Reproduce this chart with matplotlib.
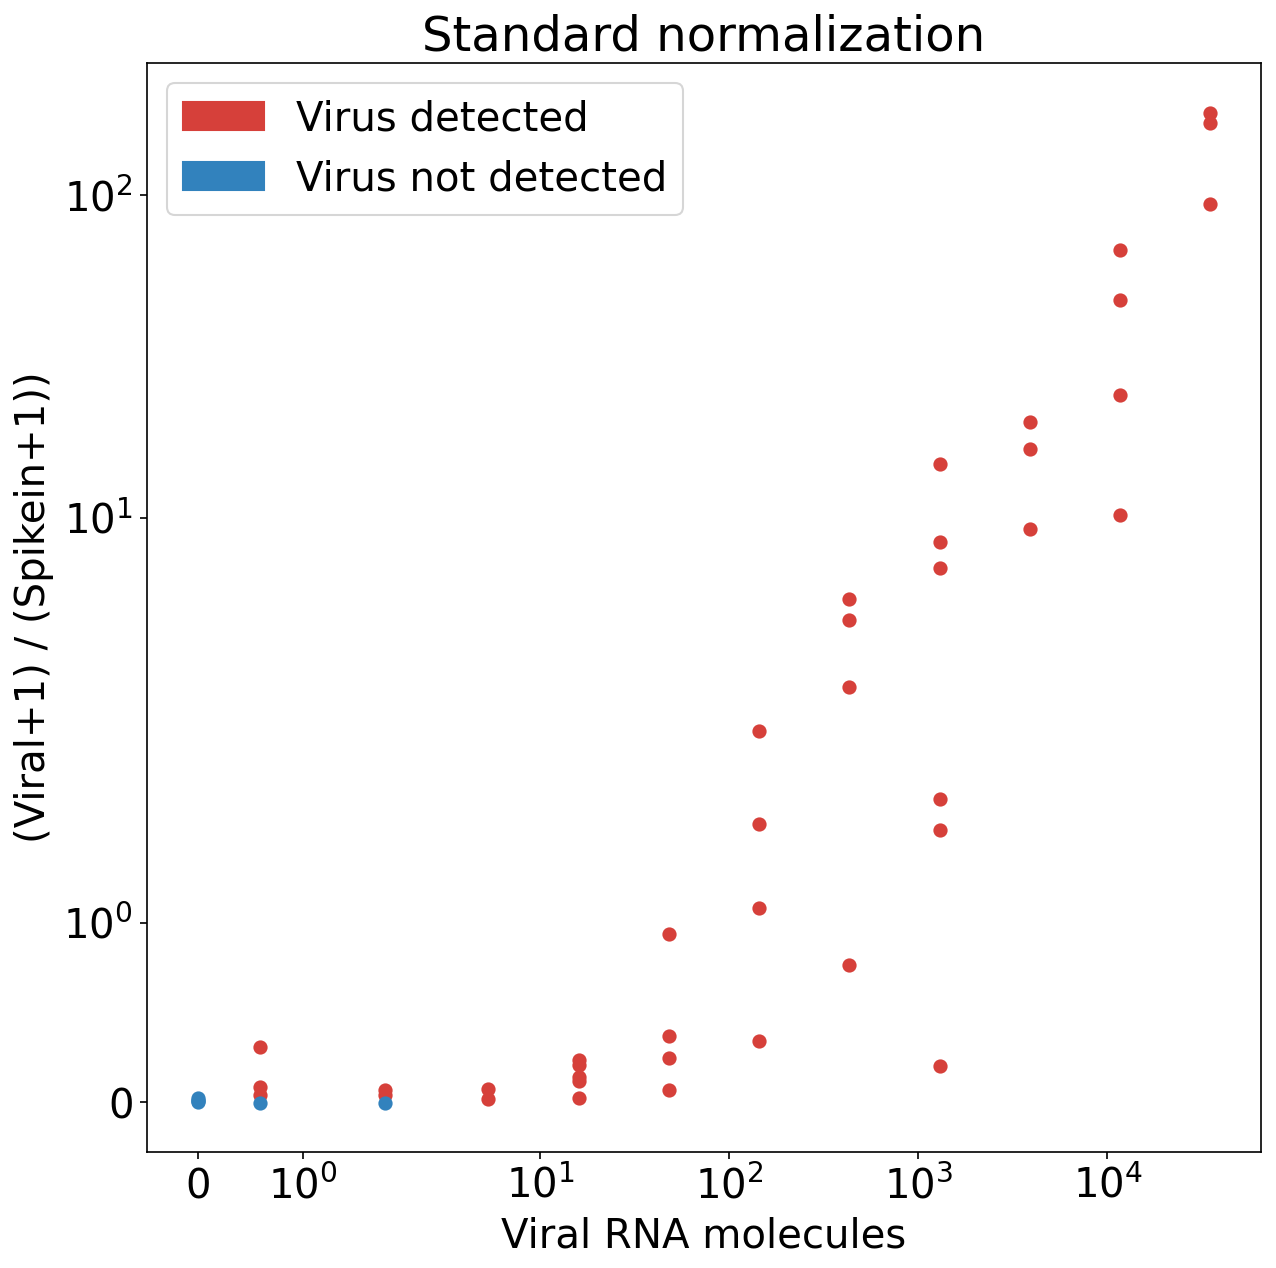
import matplotlib
matplotlib.use("Agg")
import matplotlib.pyplot as plt
from matplotlib.patches import Patch

# viral RNA input per sample (3-fold dilution series) and normalized signal
detected_x = [0.593, 0.593, 0.593,
              1.78, 1.78,
              5.33, 5.33,
              16, 16, 16, 16, 16,
              48, 48, 48, 48,
              144, 144, 144, 144,
              432, 432, 432, 432,
              1296, 1296, 1296, 1296, 1296, 1296,
              3888, 3888, 3888,
              11664, 11664, 11664, 11664,
              34992, 34992, 34992]
detected_y = [0.307, 0.083, 0.04,
              0.068, 0.04,
              0.073, 0.017,
              0.235, 0.207, 0.14, 0.117, 0.023,
              0.935, 0.366, 0.246, 0.067,
              2.18, 1.55, 1.08, 0.34,
              5.6, 4.84, 3.0, 0.766,
              14.7, 8.42, 6.99, 1.69, 1.516, 0.198,
              19.9, 16.4, 9.24,
              67.5, 47.3, 24.1, 10.2,
              180.6, 168.0, 93.9]

not_detected_x = [0, 0, 0, 0, 0.593, 1.78]
not_detected_y = [0.0, 0.005, 0.012, 0.02, -0.003, -0.003]

red = "#d6403a"
blue = "#3282bd"
fs = 19.3

fig = plt.figure(figsize=(1276 / 150, 1268 / 150), dpi=150)
ax = fig.add_axes([147 / 1276, 116 / 1268, 1114 / 1276, 1089 / 1268])

ax.scatter(detected_x, detected_y, color=red, s=34)
ax.scatter(not_detected_x, not_detected_y, color=blue, s=34)

ax.set_xscale("symlog", linthresh=2)
ax.set_yscale("symlog", linthresh=2)
ax.minorticks_off()

ax.tick_params(labelsize=fs)
ax.set_xlabel("Viral RNA molecules", fontsize=fs)
ax.set_ylabel("(Viral+1) / (Spikein+1))", fontsize=fs)
ax.set_title("Standard normalization", fontsize=23.1)

handles = [Patch(color=red, label="Virus detected"),
           Patch(color=blue, label="Virus not detected")]
ax.legend(handles=handles, loc="upper left", fontsize=fs)

fig.savefig("out.png", dpi=150)
